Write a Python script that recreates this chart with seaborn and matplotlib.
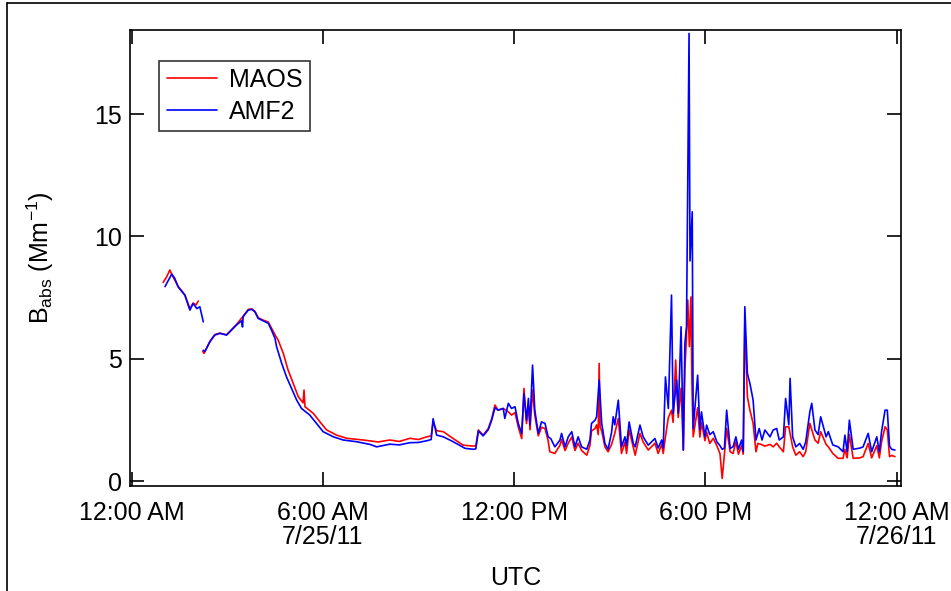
import numpy as np
import pandas as pd
import matplotlib
matplotlib.use("Agg")
import matplotlib.pyplot as plt
from matplotlib.lines import Line2D
import seaborn as sns

# Data (hours after 12:00 AM 7/25/11 UTC, Babs in Mm-1)
# MAOS, first segment
maos_t1 = [0.99, 1.10, 1.20, 1.26, 1.46, 1.67, 1.83, 1.93, 2.02, 2.09]
maos_v1 = [8.12, 8.35, 8.63, 8.45, 7.96, 7.62, 7.05, 7.28, 7.20, 7.36]
# MAOS, second segment
maos_t2 = [2.23, 2.27, 2.46, 2.61, 2.77, 2.98, 3.08, 3.29, 3.50, 3.66, 3.77, 3.87, 3.97, 4.13,
           4.29, 4.39, 4.50, 4.60, 4.76, 4.91, 5.07, 5.23, 5.38, 5.41, 5.44, 5.70, 5.91, 6.12,
           6.43, 6.75, 7.27, 7.74, 8.10, 8.40, 8.73, 9.00, 9.26, 9.40, 9.46, 9.57, 9.78, 10.09,
           10.40, 10.72, 10.80, 10.88, 11.03, 11.19, 11.30, 11.40, 11.50, 11.66, 11.82, 11.92,
           12.03, 12.13, 12.24, 12.31, 12.39, 12.45, 12.50, 12.58, 12.65, 12.76, 12.86, 12.97,
           13.07, 13.12, 13.28, 13.44, 13.49, 13.60, 13.70, 13.81, 13.91, 14.01, 14.12, 14.28,
           14.38, 14.43, 14.54, 14.59, 14.64, 14.67, 14.70, 14.75, 14.85, 14.95, 15.06, 15.16,
           15.27, 15.37, 15.48, 15.53, 15.61, 15.74, 15.80, 15.95, 16.05, 16.21, 16.42, 16.52,
           16.63, 16.68, 16.75, 16.84, 16.94, 16.99, 17.07, 17.15, 17.24, 17.31, 17.36, 17.41,
           17.45, 17.50, 17.55, 17.58, 17.62, 17.76, 17.83, 17.88, 17.99, 18.04, 18.14, 18.25,
           18.36, 18.46, 18.53, 18.60, 18.67, 18.78, 18.87, 18.96, 19.04, 19.14, 19.19, 19.24,
           19.32, 19.40, 19.50, 19.59, 19.65, 19.75, 19.87, 20.03, 20.13, 20.24, 20.32, 20.45,
           20.52, 20.62, 20.74, 20.84, 20.96, 21.07, 21.15, 21.28, 21.34, 21.44, 21.54, 21.62,
           21.79, 21.86, 22.00, 22.17, 22.32, 22.38, 22.45, 22.52, 22.64, 22.85, 22.95, 23.11,
           23.22, 23.38, 23.46, 23.53, 23.64, 23.71, 23.78, 23.85, 23.95]
maos_v2 = [5.31, 5.22, 5.72, 5.99, 6.05, 5.98, 6.12, 6.40, 6.74, 7.02, 7.04, 6.94, 6.68, 6.58,
           6.50, 6.25, 5.98, 5.76, 5.22, 4.54, 3.99, 3.45, 3.20, 3.72, 3.04, 2.77, 2.42, 2.09,
           1.88, 1.75, 1.68, 1.60, 1.68, 1.62, 1.75, 1.70, 1.81, 1.85, 2.42, 2.06, 2.02, 1.74,
           1.47, 1.43, 1.45, 2.09, 1.88, 2.15, 2.56, 3.11, 2.90, 2.97, 2.83, 2.70,
           2.80, 2.22, 1.74, 3.79, 2.35, 3.10, 2.10, 3.72, 2.70, 1.85, 2.20, 2.15,
           1.65, 1.20, 1.13, 1.47, 1.70, 1.25, 1.55, 1.80, 1.25, 1.55, 1.25, 1.06,
           1.45, 2.05, 2.15, 2.30, 1.90, 4.81, 2.20, 2.05, 1.40, 1.20, 1.50, 1.95,
           2.56, 1.13, 1.60, 1.13, 2.10, 1.40, 1.06, 1.95, 1.60, 1.27, 1.55, 1.13,
           1.50, 1.13, 1.81, 2.60, 2.90, 2.40, 4.95, 2.60, 3.80, 1.27, 4.60, 5.90,
           7.40, 5.50, 7.53, 4.00, 1.81, 3.00, 1.80, 2.40, 1.65, 2.00, 1.54, 1.75,
           1.45, 1.13, 0.11, 1.10, 2.15, 1.20, 1.13, 1.60, 1.10, 1.45, 1.10, 6.51,
           3.45, 2.90, 2.36, 1.20, 1.54, 1.50, 1.43, 1.50, 1.40, 1.55, 1.40, 1.20,
           2.22, 2.22, 1.40, 1.06, 1.20, 1.00, 1.20, 2.36, 2.10, 1.68, 1.55, 2.02,
           1.50, 1.40, 1.13, 0.93, 0.93, 1.30, 0.95, 1.90, 0.93, 0.95, 1.00, 1.54,
           0.95, 1.45, 0.95, 1.60, 2.22, 2.10, 1.00, 1.05, 1.00]

# AMF2, first segment
amf2_t1 = [1.05, 1.10, 1.26, 1.35, 1.46, 1.67, 1.83, 1.93, 2.05, 2.14, 2.25]
amf2_v1 = [7.95, 8.08, 8.46, 8.30, 7.94, 7.60, 6.99, 7.26, 7.05, 7.13, 6.51]
# AMF2, second segment
amf2_t2 = [2.25, 2.30, 2.46, 2.61, 2.77, 2.98, 3.08, 3.29, 3.45, 3.48, 3.50, 3.66, 3.77, 3.87,
           3.97, 4.13, 4.29, 4.39, 4.50, 4.55, 4.71, 4.86, 5.02, 5.18, 5.33, 5.59, 5.80, 6.01,
           6.33, 6.64, 7.06, 7.48, 7.69, 8.10, 8.40, 8.73, 9.00, 9.26, 9.40, 9.46, 9.57, 9.78,
           10.09, 10.46, 10.72, 10.80, 10.88, 11.03, 11.19, 11.30, 11.40, 11.50, 11.66, 11.71,
           11.82, 11.92, 12.03, 12.13, 12.24, 12.31, 12.39, 12.45, 12.50, 12.58, 12.65, 12.76,
           12.86, 12.97, 13.07, 13.15, 13.28, 13.44, 13.49, 13.60, 13.70, 13.81, 13.91, 14.01,
           14.12, 14.28, 14.38, 14.43, 14.54, 14.59, 14.67, 14.75, 14.85, 14.95, 15.06, 15.11,
           15.16, 15.27, 15.37, 15.48, 15.53, 15.61, 15.74, 15.80, 15.95, 16.05, 16.21, 16.42,
           16.52, 16.63, 16.68, 16.75, 16.84, 16.94, 16.99, 17.10, 17.15, 17.24, 17.31, 17.36,
           17.41, 17.47, 17.49, 17.52, 17.59, 17.62, 17.76, 17.83, 17.88, 17.99, 18.04, 18.14,
           18.25, 18.36, 18.46, 18.53, 18.60, 18.67, 18.78, 18.87, 18.96, 19.04, 19.14, 19.19,
           19.24, 19.32, 19.40, 19.50, 19.59, 19.69, 19.78, 19.87, 20.03, 20.13, 20.24, 20.32,
           20.45, 20.52, 20.62, 20.66, 20.74, 20.84, 20.96, 21.07, 21.15, 21.28, 21.34, 21.44,
           21.54, 21.62, 21.79, 21.86, 22.00, 22.17, 22.32, 22.38, 22.45, 22.52, 22.64, 22.85,
           22.95, 23.11, 23.22, 23.38, 23.46, 23.53, 23.64, 23.71, 23.78, 23.85, 23.95]
amf2_v2 = [5.35, 5.30, 5.70, 5.97, 6.04, 5.97, 6.10, 6.38, 6.55, 6.30, 6.72, 6.99, 7.02, 6.92,
           6.65, 6.55, 6.45, 6.17, 5.83, 5.49, 4.81, 4.26, 3.79, 3.31, 2.97, 2.70, 2.36, 2.02,
           1.81, 1.68, 1.61, 1.50, 1.40, 1.51, 1.48, 1.57, 1.58, 1.65, 1.70, 2.55, 1.88, 1.81,
           1.61, 1.34, 1.30, 1.32, 2.05, 1.85, 2.10, 2.50, 3.00, 2.90, 2.97, 2.56,
           3.18, 2.97, 3.04, 2.36, 1.95, 3.58, 2.49, 3.38, 2.29, 4.74, 2.90, 1.95,
           2.42, 2.36, 1.81, 1.74, 1.40, 1.68, 1.95, 1.40, 1.81, 2.02, 1.40, 1.81,
           1.40, 1.30, 1.68, 2.36, 2.49, 2.63, 4.13, 2.36, 1.54, 1.30, 2.00, 2.63,
           2.30, 3.31, 1.40, 1.81, 1.45, 2.42, 1.54, 1.40, 2.29, 1.81, 1.47, 1.74,
           1.35, 1.68, 1.35, 4.26, 2.97, 7.60, 2.77, 4.13, 2.77, 6.31, 1.27, 5.63,
           6.31, 15.70, 18.30, 9.00, 11.01, 2.15, 4.33, 2.09, 2.83, 1.81, 2.29, 1.90,
           2.02, 1.61, 1.45, 1.30, 1.35, 2.90, 1.34, 1.40, 1.81, 1.30, 1.68, 1.20,
           7.13, 4.40, 3.99, 3.31, 1.68, 2.15, 1.68, 2.09, 1.81, 2.09, 2.15, 1.68,
           1.81, 3.38, 2.30, 4.20, 1.81, 1.40, 1.54, 1.30, 1.60, 2.83, 3.18, 2.09,
           1.90, 2.63, 1.81, 2.02, 1.48, 1.40, 1.20, 1.88, 1.20, 2.49, 1.30, 1.35,
           1.40, 1.95, 1.20, 1.81, 1.20, 2.02, 2.90, 2.90, 1.43, 1.30, 1.27]

tick_hours = [0, 6, 12, 18, 24]
tick_labels = ["12:00 AM", "6:00 AM\n7/25/11", "12:00 PM", "6:00 PM", "12:00 AM\n7/26/11"]
y_ticks = [0, 5, 10, 15]

# long-form table, one unit per unbroken segment
parts = []
for name, seg, t, v in [("MAOS", 0, maos_t1, maos_v1), ("MAOS", 1, maos_t2, maos_v2),
                        ("AMF2", 0, amf2_t1, amf2_v1), ("AMF2", 1, amf2_t2, amf2_v2)]:
    parts.append(pd.DataFrame({"hour": t, "babs": v, "inst": name, "seg": seg}))
df = pd.concat(parts, ignore_index=True)

sns.set_theme(style="white")
plt.rcParams["font.family"] = ["Liberation Sans", "DejaVu Sans"]
plt.rcParams["mathtext.fontset"] = "custom"
plt.rcParams["mathtext.rm"] = "Liberation Sans"
for key in ["text.color", "axes.labelcolor", "xtick.color", "ytick.color", "axes.edgecolor"]:
    plt.rcParams[key] = "black"

colors = {"MAOS": "#ff0000", "AMF2": "#0000ff"}

fig = plt.figure(figsize=(9.51, 5.91), dpi=100)
ax = fig.add_axes([130 / 951, 1 - 486 / 591, 771 / 951, 456 / 591])

sns.lineplot(data=df, x="hour", y="babs", hue="inst", hue_order=["MAOS", "AMF2"],
             units="seg", estimator=None, palette=colors, linewidth=1.2,
             legend=False, ax=ax, sort=False)

ax.set_xlim(-0.05, 24.14)
ax.set_ylim(-0.2, 18.44)
ax.set_xticks(tick_hours)
ax.set_xticklabels(tick_labels, fontsize=18, linespacing=1.0)
ax.set_yticks(y_ticks)
ax.set_yticklabels([str(y) for y in y_ticks], fontsize=18)
ax.tick_params(direction="in", length=10, width=1.2, color="black", labelcolor="black",
               top=True, right=True, bottom=True, left=True)
ax.tick_params(axis="x", pad=11)
ax.tick_params(axis="y", pad=6)
for sp in ax.spines.values():
    sp.set_color("black")
    sp.set_linewidth(1.2)

ax.set_xlabel("UTC", fontsize=18, labelpad=12, color="black")
ax.set_ylabel(r"B$_{\mathregular{abs}}$ (Mm$^{\mathregular{-1}}$)", fontsize=18, labelpad=27, color="black")

handles = [Line2D([], [], color=colors["MAOS"], lw=1.2), Line2D([], [], color=colors["AMF2"], lw=1.2)]
leg = ax.legend(handles, ["MAOS", "AMF2"], loc="upper left", bbox_to_anchor=(0.038, 0.933),
                borderaxespad=0, fontsize=18, frameon=True, fancybox=False,
                handlelength=2.0, handletextpad=0.5, labelspacing=0.3,
                borderpad=0.3, labelcolor="black")
leg.get_frame().set_edgecolor("black")
leg.get_frame().set_linewidth(1.2)

# outer frame lines (left and top edges of the graph window)
fig.add_artist(Line2D([7 / 951, 7 / 951], [0, 1 - 3 / 591], color="black", lw=1.2, transform=fig.transFigure))
fig.add_artist(Line2D([7 / 951, 1], [1 - 3 / 591, 1 - 3 / 591], color="black", lw=1.2, transform=fig.transFigure))

fig.savefig("out.png", dpi=100)
